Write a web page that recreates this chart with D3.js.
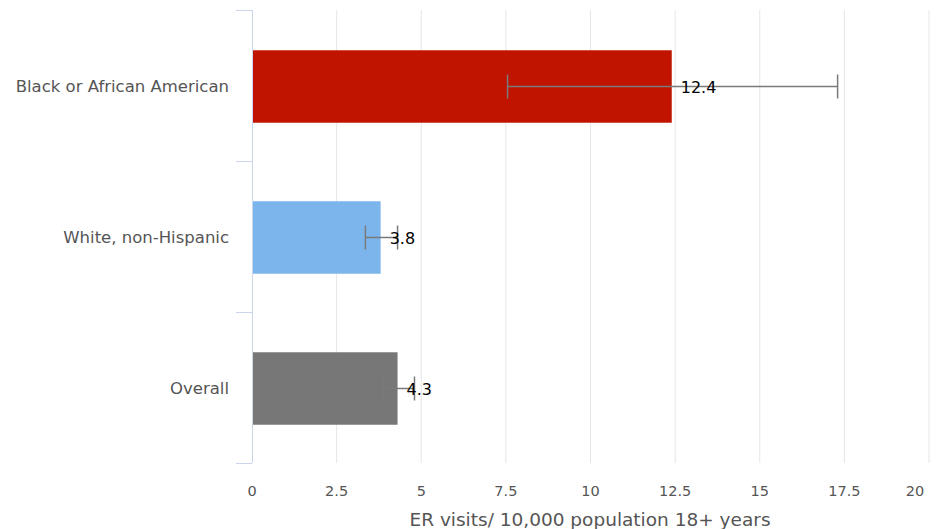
<!DOCTYPE html>
<html><head><meta charset="utf-8">
<script src="https://cdn.jsdelivr.net/npm/d3@7"></script>
<style>body{margin:0;background:#fff}svg{display:block}</style>
</head><body>
<svg id="c" width="940" height="529"></svg>
<script>
const categories = ["Black or African American", "White, non-Hispanic", "Overall"];
const values = [12.4, 3.8, 4.3];
const errLow = [7.55, 3.35, 3.87];
const errHigh = [17.3, 4.3, 4.8];
const colors = ["#c01400", "#7cb5ec", "#777777"];
const xTicks = [0, 2.5, 5, 7.5, 10, 12.5, 15, 17.5, 20];
const xTitle = "ER visits/ 10,000 population 18+ years";

const svg = d3.select("#c");
const m = {l: 252, r: 11, t: 10, b: 66};
const W = 940, H = 529;
const x = d3.scaleLinear().domain([0, 20]).range([m.l, W - m.r]);
const y = d3.scaleBand().domain(categories).range([m.t, H - m.b]).paddingInner(0.52).paddingOuter(0.26);
const yb = d3.scaleBand().domain(categories).range([m.t, H - m.b]);
const font = "'DejaVu Sans', Verdana, sans-serif";

// gridlines
svg.append("g").selectAll("line").data(xTicks.slice(1)).join("line")
  .attr("x1", d => x(d)).attr("x2", d => x(d))
  .attr("y1", m.t).attr("y2", H - m.b)
  .attr("stroke", "#e6e6e6").attr("stroke-width", 1);

// y axis line & ticks
svg.append("line").attr("x1", m.l + 0.5).attr("x2", m.l + 0.5).attr("y1", m.t).attr("y2", H - m.b)
  .attr("stroke", "#ccd6eb");
const yTickPos = categories.map(c => yb(c)).concat([H - m.b]);
svg.append("g").selectAll("line").data(yTickPos).join("line")
  .attr("x1", m.l - 16).attr("x2", m.l).attr("y1", d => Math.round(d) + 0.5).attr("y2", d => Math.round(d) + 0.5)
  .attr("stroke", "#ccd6eb");

// bars
svg.append("g").selectAll("rect").data(categories).join("rect")
  .attr("x", x(0) + 1).attr("y", d => y(d) + 1)
  .attr("width", (d, i) => x(values[i]) - x(0) - 1).attr("height", y.bandwidth())
  .attr("fill", (d, i) => colors[i]);

// error bars
const eg = svg.append("g").attr("stroke", "#7a7a7a").attr("stroke-width", 1.5);
categories.forEach((c, i) => {
  const cy = y(c) + y.bandwidth() / 2 + 1;
  eg.append("line").attr("x1", x(errLow[i])).attr("x2", x(errHigh[i])).attr("y1", cy).attr("y2", cy);
  [errLow[i], errHigh[i]].forEach(v => {
    eg.append("line").attr("x1", x(v)).attr("x2", x(v)).attr("y1", cy - 12).attr("y2", cy + 12);
  });
});

// data labels
svg.append("g").selectAll("text").data(categories).join("text")
  .attr("x", (d, i) => x(values[i]) + 9).attr("y", d => y(d) + y.bandwidth() / 2 + 2)
  .attr("dy", "0.35em").attr("font-family", font).attr("font-size", 16)
  .attr("fill", "#000").text((d, i) => values[i]);

// category labels
svg.append("g").selectAll("text").data(categories).join("text")
  .attr("x", m.l - 23).attr("y", d => y(d) + y.bandwidth() / 2 + 1)
  .attr("dy", "0.35em").attr("text-anchor", "end")
  .attr("font-family", font).attr("font-size", 16.5).attr("fill", "#555").text(d => d);

// x tick labels
svg.append("g").selectAll("text").data(xTicks).join("text")
  .attr("x", d => d === 20 ? x(d) - 14 : x(d)).attr("y", 496)
  .attr("text-anchor", "middle").attr("font-family", font).attr("font-size", 14.5)
  .attr("fill", "#555").text(d => d);

// x title
svg.append("text").attr("x", 590).attr("y", 526).attr("text-anchor", "middle")
  .attr("font-family", font).attr("font-size", 18.5).attr("fill", "#555").text(xTitle);
</script>
</body></html>
